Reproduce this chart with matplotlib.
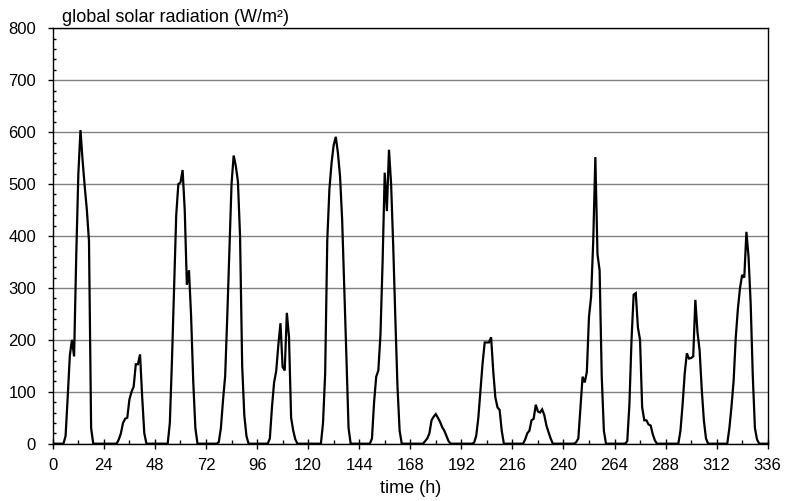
import numpy as np
import matplotlib
matplotlib.use("Agg")
import matplotlib.pyplot as plt
from matplotlib.ticker import MultipleLocator

plt.rcParams['font.family'] = ['Liberation Sans', 'DejaVu Sans']

# hourly global solar radiation (W/m²), one list per day (hours 0..23)
day01 = [0, 0, 0, 0, 0, 0, 15, 90, 170, 200, 168, 360, 520, 604, 545, 495, 450, 390, 30, 0, 0, 0, 0, 0]
day02 = [0, 0, 0, 0, 0, 0, 0, 8, 20, 40, 48, 50, 85, 100, 110, 153, 153, 172, 90, 20, 0, 0, 0, 0]
day03 = [0, 0, 0, 0, 0, 0, 0, 40, 160, 300, 440, 500, 503, 527, 450, 306, 334, 245, 120, 30, 0, 0, 0, 0]
day04 = [0, 0, 0, 0, 0, 0, 3, 30, 84, 130, 246, 370, 500, 555, 535, 505, 400, 150, 55, 15, 0, 0, 0, 0]
day05 = [0, 0, 0, 0, 0, 0, 10, 70, 118, 140, 190, 232, 148, 141, 252, 206, 50, 25, 8, 0, 0, 0, 0, 0]
day06 = [0, 0, 0, 0, 0, 0, 0, 40, 135, 392, 490, 540, 575, 591, 560, 515, 430, 300, 166, 30, 0, 0, 0, 0]
day07 = [0, 0, 0, 0, 0, 0, 10, 80, 129, 141, 210, 350, 522, 448, 566, 500, 380, 240, 110, 25, 0, 0, 0, 0]
day08 = [0, 0, 0, 0, 0, 0, 0, 5, 10, 20, 45, 52, 57, 50, 42, 32, 25, 15, 5, 0, 0, 0, 0, 0]
day09 = [0, 0, 0, 0, 0, 0, 2, 15, 50, 102, 155, 195, 195, 195, 205, 140, 89, 70, 65, 25, 0, 0, 0, 0]
day10 = [0, 0, 0, 0, 0, 0, 8, 20, 25, 45, 48, 75, 62, 60, 66, 55, 35, 22, 10, 0, 0, 0, 0, 0]
day11 = [0, 0, 0, 0, 0, 0, 3, 10, 70, 129, 118, 138, 244, 283, 390, 552, 365, 334, 130, 25, 0, 0, 0, 0]
day12 = [0, 0, 0, 0, 0, 0, 5, 75, 200, 287, 290, 224, 200, 70, 45, 45, 37, 35, 18, 6, 0, 0, 0, 0]
day13 = [0, 0, 0, 0, 0, 0, 0, 25, 75, 135, 174, 164, 165, 168, 277, 215, 180, 105, 45, 10, 0, 0, 0, 0]
day14 = [0, 0, 0, 0, 0, 0, 30, 72, 122, 205, 260, 300, 325, 320, 408, 360, 270, 130, 30, 8, 0, 0, 0, 0]
final_hour_value = [0]

days = [day01, day02, day03, day04, day05, day06, day07, day08,
        day09, day10, day11, day12, day13, day14]
radiation = np.concatenate([np.array(d, dtype=float) for d in days] + [np.array(final_hour_value, dtype=float)])
hours = np.arange(len(radiation))

x_ticks = list(range(0, 337, 24))
y_ticks = list(range(0, 801, 100))

fig = plt.figure(figsize=(7.86, 5.01), dpi=100)
ax = fig.add_axes([0.0672, 0.1144, 0.9095, 0.8291])

ax.plot(hours, radiation, color='black', lw=1.6, solid_joinstyle='miter', zorder=3)

ax.set_xlim(0, 336)
ax.set_ylim(0, 800)
ax.set_xticks(x_ticks)
ax.set_yticks(y_ticks)
ax.xaxis.set_minor_locator(MultipleLocator(12))
ax.yaxis.set_minor_locator(MultipleLocator(20))

ax.yaxis.grid(True, which='major', color='#808080', lw=1.0, zorder=1)
ax.set_axisbelow(True)

for s in ax.spines.values():
    s.set_color('black')
    s.set_linewidth(1.0)

ax.tick_params(axis='x', which='major', direction='inout', length=6.5, width=1, pad=7, labelsize=12)
ax.tick_params(axis='x', which='minor', direction='in', length=3, width=1)
ax.tick_params(axis='y', which='major', direction='out', length=3.6, width=1, pad=8.5, labelsize=12)
ax.tick_params(axis='y', which='minor', direction='in', length=2.4, width=1)

ax.set_xlabel('time (h)', fontsize=13)
ax.xaxis.set_label_coords(0.5, -0.0874)
ax.text(0.0125, 1.016, 'global solar radiation (W/m²)', transform=ax.transAxes,
        fontsize=13, ha='left', va='baseline')

fig.savefig('out.png', dpi=100)
